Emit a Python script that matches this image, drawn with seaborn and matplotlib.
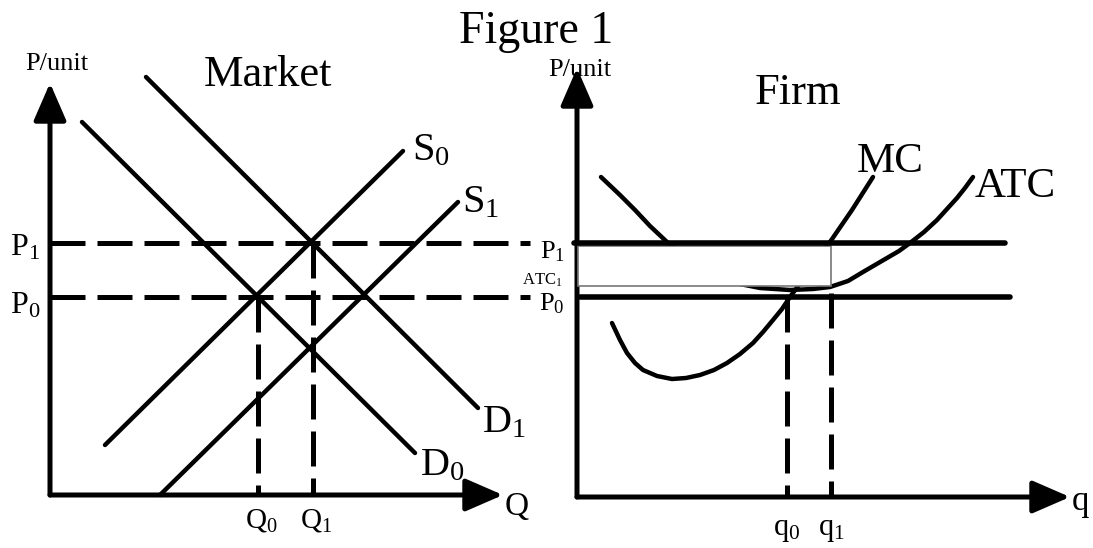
import matplotlib
matplotlib.use("Agg")
import matplotlib.pyplot as plt
from matplotlib.patches import Rectangle
import seaborn as sns

# ---- Market panel (origin = corner of the axes, units ~ pixels) ----
d0_q = [32, 365]
d0_p = [373, 42]
d1_q = [96, 428]
d1_p = [418, 87]
s0_q = [55, 353]
s0_p = [50, 344]
s1_q = [110, 408]
s1_p = [0, 293]
mkt_prices = [198, 252]          # P0, P1
mkt_quantities = [208, 263]      # Q0, Q1
mkt_price_labels = ["P$_\\mathregular{0}$", "P$_\\mathregular{1}$"]
mkt_qty_labels = ["Q$_\\mathregular{0}$", "Q$_\\mathregular{1}$"]

# ---- Firm panel ----
mc_q = [35, 43, 50, 58, 66, 80, 95, 109, 123, 137, 150, 163, 176, 186, 196,
        205, 213, 233, 253, 275, 296]
mc_c = [174, 157, 144, 134, 127, 121, 118, 119, 122, 127, 134, 143, 154, 165,
        177, 188, 200, 227, 255, 287, 320]
atc_q = [24, 43, 58, 73, 90, 123, 143, 163, 183, 213, 236, 253, 271, 286, 298,
         310, 322, 333, 347, 360, 370, 380, 388, 396]
atc_c = [320, 302, 287, 271, 255, 231, 220, 213, 209, 207, 208, 210, 216, 225,
         232, 239, 246, 254, 265, 277, 288, 299, 309, 320]
firm_prices = [200, 254]         # P0, P1
firm_qty = [210, 254]            # q0, q1
atc1 = 211
firm_qty_labels = ["q$_\\mathregular{0}$", "q$_\\mathregular{1}$"]

sns.set_theme(style="white")
plt.rcParams["font.family"] = ["Liberation Serif", "DejaVu Serif"]
plt.rcParams["text.color"] = "black"
plt.rcParams["mathtext.fontset"] = "custom"
plt.rcParams["mathtext.rm"] = "Liberation Serif"
plt.rcParams["mathtext.it"] = "Liberation Serif:italic"

W, H = 1093, 548
fig = plt.figure(figsize=(W / 100, H / 100), dpi=100)
ax_m = fig.add_axes([0, 0, 0.5, 1])
ax_f = fig.add_axes([0.5, 0, 0.5, 1])
ax_m.set_xlim(-50, W / 2 - 50)
ax_m.set_ylim(-(H - 495), 495)
ax_f.set_xlim(W / 2 - 577, W - 577)
ax_f.set_ylim(-(H - 497), 497)
for ax in (ax_m, ax_f):
    ax.set_axis_off()

dash = (0, (7, 2.4))
k = "black"
curve_kw = dict(sort=False, estimator=None, color=k, lw=3.2,
                solid_joinstyle="round")


def axis_arrows(ax, x_end, y_end):
    style = "-|>,head_length=1.15,head_width=0.5"
    for tip in [(x_end, 0), (0, y_end)]:
        ax.annotate("", xy=tip, xytext=(0, 0),
                    arrowprops=dict(arrowstyle=style, color=k, lw=3.6,
                                    mutation_scale=20, shrinkA=0, shrinkB=0))


# Market
axis_arrows(ax_m, 453, 412)
for qs, ps in [(d0_q, d0_p), (d1_q, d1_p), (s0_q, s0_p), (s1_q, s1_p)]:
    sns.lineplot(x=qs, y=ps, ax=ax_m, **curve_kw)
for p in mkt_prices:
    ax_m.plot([0, 480], [p, p], color=k, lw=3.6, linestyle=dash)
for q, p in zip(mkt_quantities, mkt_prices):
    ax_m.plot([q, q], [p, 0], color=k, lw=3.6, linestyle=dash)

for lab, p, yb in zip(mkt_price_labels, mkt_prices, [181, 240]):
    ax_m.text(-10, yb, lab, fontsize=23, ha="right", va="baseline")
for lab, q in zip(mkt_qty_labels, mkt_quantities):
    ax_m.text(q + 3, -32, lab, fontsize=21, ha="center", va="baseline")
ax_m.text(7, 425, "P/unit", fontsize=19, ha="center", va="baseline")
ax_m.text(218, 409, "Market", fontsize=32, ha="center", va="baseline")
ax_m.text(362, 335, "S$_\\mathregular{0}$", fontsize=29, ha="left", va="baseline")
ax_m.text(412, 283, "S$_\\mathregular{1}$", fontsize=29, ha="left", va="baseline")
ax_m.text(432, 63, "D$_\\mathregular{1}$", fontsize=29, ha="left", va="baseline")
ax_m.text(370, 20, "D$_\\mathregular{0}$", fontsize=29, ha="left", va="baseline")
ax_m.text(455, -20, "Q", fontsize=24, ha="left", va="baseline")

# Firm
axis_arrows(ax_f, 493, 429)
sns.lineplot(x=mc_q, y=mc_c, ax=ax_f, **curve_kw)
sns.lineplot(x=atc_q, y=atc_c, ax=ax_f, **curve_kw)
ax_f.add_patch(Rectangle((1, atc1), firm_qty[1] - 1, firm_prices[1] - 3 - atc1,
                         facecolor="white", edgecolor="#777777", lw=1.2, zorder=3))
ax_f.plot([-3, 428], [firm_prices[1]] * 2, color=k, lw=4, zorder=4)
ax_f.plot([3, 433], [firm_prices[0]] * 2, color=k, lw=4, zorder=4)
ax_f.plot([firm_qty[0]] * 2, [firm_prices[0], 0], color=k, lw=3.6, linestyle=dash)
ax_f.plot([firm_qty[1]] * 2, [firm_prices[0] + 4, 0], color=k, lw=3.6, linestyle=dash)

ax_f.text(-12, 239, "P$_\\mathregular{1}$", fontsize=19, ha="right", va="baseline")
ax_f.text(-14, 212, "ATC$_\\mathregular{1}$", fontsize=12, ha="right", va="baseline")
ax_f.text(-12, 187, "P$_\\mathregular{0}$", fontsize=19, ha="right", va="baseline")
for lab, q in zip(firm_qty_labels, firm_qty):
    ax_f.text(q, -38, lab, fontsize=22, ha="center", va="baseline")
ax_f.text(3, 421, "P/unit", fontsize=19, ha="center", va="baseline")
ax_f.text(221, 393, "Firm", fontsize=32, ha="center", va="baseline")
ax_f.text(280, 325, "MC", fontsize=31, ha="left", va="baseline")
ax_f.text(398, 300, "ATC", fontsize=31, ha="left", va="baseline")
ax_f.text(495, -13, "q", fontsize=25, ha="left", va="baseline")

fig.text(536 / W, 1 - 43 / H, "Figure 1", fontsize=33, ha="center", va="baseline")

fig.savefig("out.png", dpi=100, facecolor="white")
